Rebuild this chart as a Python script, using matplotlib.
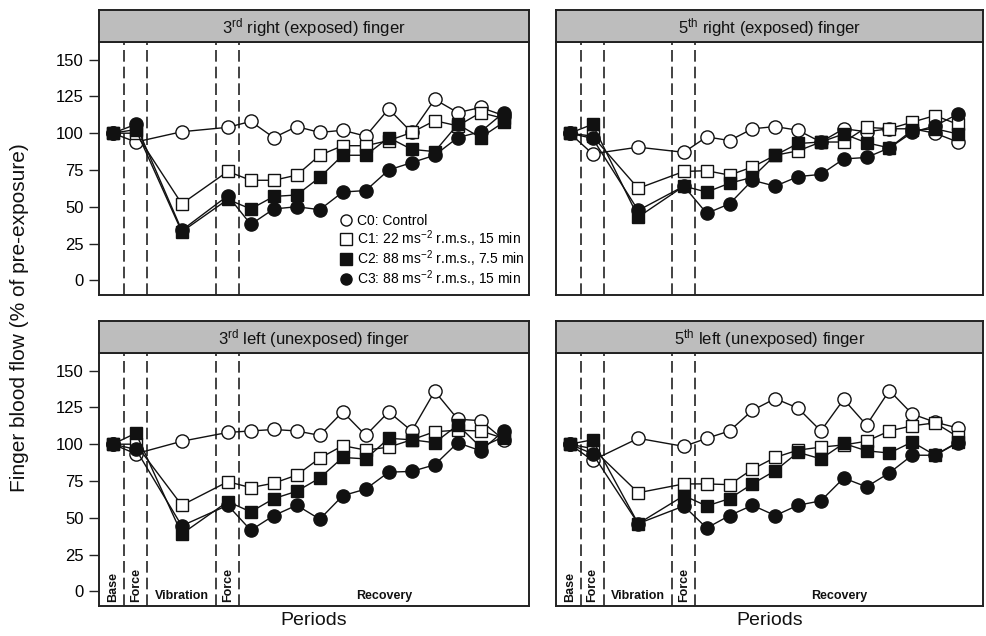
import matplotlib
matplotlib.use("Agg")
import matplotlib.pyplot as plt


# Data

x_pos = [0, 1, 3, 5, 6, 7, 8, 9, 10, 11, 12, 13, 14, 15, 16, 17]

panel_titles = [
    r"3$^{\rm rd}$ right (exposed) finger",
    r"5$^{\rm th}$ right (exposed) finger",
    r"3$^{\rm rd}$ left (unexposed) finger",
    r"5$^{\rm th}$ left (unexposed) finger",
]

legend_labels = [
    "C0: Control",
    r"C1: 22 ms$^{-2}$ r.m.s., 15 min",
    r"C2: 88 ms$^{-2}$ r.m.s., 7.5 min",
    r"C3: 88 ms$^{-2}$ r.m.s., 15 min",
]

# 3rd right (exposed)
r3_c0 = [100, 94, 101, 104, 108, 97, 104.5, 100.5, 102, 98, 116.5, 100.5, 123, 114, 117.5, 112]
r3_c1 = [100, 100, 52, 74, 68, 68, 71.5, 85, 91.5, 91.5, 95, 100.5, 108.5, 105, 114, 110]
r3_c2 = [100, 102.5, 33, 55, 48.5, 57, 58, 70, 85, 85, 97, 89, 87.5, 106, 97, 107.5]
r3_c3 = [100, 106, 34, 57.5, 38, 48.5, 50, 48, 60, 61, 75, 80, 85, 97, 101, 114]

# 5th right (exposed)
r5_c0 = [100, 86, 90.5, 87, 97.5, 95, 103, 104.5, 102, 94, 103, 101, 103, 103, 100, 94]
r5_c1 = [100, 98, 62.5, 74, 74.5, 71.5, 77, 85, 88, 94, 94, 104, 103, 107.5, 112, 106]
r5_c2 = [100, 106, 43, 64, 60, 66, 70, 85, 93, 94, 99.5, 93.5, 90, 102, 103, 99.5]
r5_c3 = [100, 96.5, 47.5, 64, 45.5, 52, 68, 64, 70.5, 72, 82.5, 83.5, 90, 100.5, 105, 113]

# 3rd left (unexposed)
l3_c0 = [100, 93.5, 102, 108, 109, 110, 109, 106, 122, 106, 122, 109, 136, 117, 116, 103]
l3_c1 = [100, 100, 58.5, 74.5, 70.5, 73.5, 79, 90.5, 99, 96, 98, 103, 108.5, 109.5, 109, 104]
l3_c2 = [100, 107.5, 39, 61, 54, 63, 68, 77, 91, 90, 104, 103, 101, 113, 98, 105]
l3_c3 = [100, 96.5, 44.5, 58.5, 41.5, 51.5, 58.5, 49, 65, 69.5, 81, 81.5, 86, 101, 95.5, 109]

# 5th left (unexposed)
l5_c0 = [100, 89, 104, 98.5, 104, 109, 123, 131, 124.5, 109, 130.5, 113, 136.5, 120.5, 115, 111]
l5_c1 = [100, 97, 67, 73, 73, 72.5, 83, 91, 96, 98, 99.5, 102, 109, 112.5, 114.5, 105]
l5_c2 = [100, 103, 46, 65, 58, 63, 73, 82, 94.5, 90, 100.5, 95.5, 94, 101.5, 92.5, 101.5]
l5_c3 = [100, 93.5, 46, 58, 43, 51.5, 58.5, 51.5, 58.5, 61.5, 77, 71, 80.5, 92.5, 92.5, 101]

panels = [
    (r3_c0, r3_c1, r3_c2, r3_c3),
    (r5_c0, r5_c1, r5_c2, r5_c3),
    (l3_c0, l3_c1, l3_c2, l3_c3),
    (l5_c0, l5_c1, l5_c2, l5_c3),
]

period_bounds = [0.5, 1.5, 4.5, 5.5]
yticks = [0, 25, 50, 75, 100, 125, 150]


# Styles

plt.rcParams["font.family"] = ["Liberation Sans", "DejaVu Sans"]
plt.rcParams["mathtext.fontset"] = "custom"
plt.rcParams["mathtext.rm"] = "Liberation Sans"
plt.rcParams["mathtext.it"] = "Liberation Sans"

series_style = [
    dict(marker="o", mfc="white", mec="#111111", ms=9.5),
    dict(marker="s", mfc="white", mec="#111111", ms=8),
    dict(marker="s", mfc="#111111", mec="#111111", ms=8),
    dict(marker="o", mfc="#111111", mec="#111111", ms=9.5),
]
draw_order = [0, 1, 3, 2]

fig = plt.figure(figsize=(9.86, 6.36), dpi=100)

W, H = 986, 636
boxes = [
    (99, 42, 430, 253),
    (556, 42, 427, 253),
    (99, 353, 430, 253),
    (556, 353, 427, 253),
]
header_h = 32

axes = []
for i, (px, py, pw, ph) in enumerate(boxes):
    ax = fig.add_axes([px / W, 1 - (py + ph) / H, pw / W, ph / H])
    axes.append(ax)
    data = panels[i]

    for b in period_bounds:
        ax.axvline(b, color="#222222", lw=1.2, ls=(0, (7, 3)), zorder=1)

    for k in draw_order:
        st = series_style[k]
        ax.plot(x_pos, data[k], color="#111111", lw=1.0, marker=st["marker"],
                markersize=st["ms"], markerfacecolor=st["mfc"],
                markeredgecolor=st["mec"], markeredgewidth=1.0,
                label=legend_labels[k], zorder=3 + k)

    ax.set_xlim(-0.6, 18.1)
    ax.set_ylim(-10, 162)
    ax.set_xticks([])
    ax.set_yticks(yticks)
    ax.tick_params(axis="y", length=7, width=1.0, color="#222222", labelsize=12, pad=4)
    if i % 2 == 1:
        ax.tick_params(axis="y", left=False, labelleft=False)
    for s in ax.spines.values():
        s.set_color("#222222")
        s.set_linewidth(1.4)

    # strip header
    hax = fig.add_axes([px / W, 1 - py / H, pw / W, header_h / H])
    hax.set_facecolor("#bdbdbd")
    hax.set_xticks([])
    hax.set_yticks([])
    for s in hax.spines.values():
        s.set_color("#222222")
        s.set_linewidth(1.4)
    hax.text(0.5, 0.45, panel_titles[i], ha="center", va="center", fontsize=12,
             color="#111111", transform=hax.transAxes)

    # period labels on bottom panels
    if i >= 2:
        lab_y = -7.5
        kw = dict(fontsize=9, fontweight="bold", color="#111111", va="bottom", ha="center")
        ax.text(0, lab_y, "Base", rotation=90, **kw)
        ax.text(1, lab_y, "Force", rotation=90, **kw)
        ax.text(3, lab_y, "Vibration", **kw)
        ax.text(5, lab_y, "Force", rotation=90, **kw)
        ax.text(11.8, lab_y, "Recovery", **kw)
        ax.set_xlabel("Periods", fontsize=14, labelpad=4, color="#111111")

# legend in first panel
handles, labels = axes[0].get_legend_handles_labels()
order = [labels.index(l) for l in legend_labels]
leg = axes[0].legend([handles[j] for j in order], [labels[j] for j in order],
                     loc="lower right", bbox_to_anchor=(1.01, -0.01), frameon=False,
                     fontsize=10, handlelength=0.6, handletextpad=0.5,
                     labelspacing=-0.02, borderaxespad=0.2)
for h in leg.legend_handles:
    h.set_linestyle("none")
    h.set_markersize(8)

fig.text(20 / W, 0.5, "Finger blood flow (% of pre-exposure)", rotation=90,
         ha="center", va="center", fontsize=15, color="#111111")

fig.savefig("out.png", dpi=100)
